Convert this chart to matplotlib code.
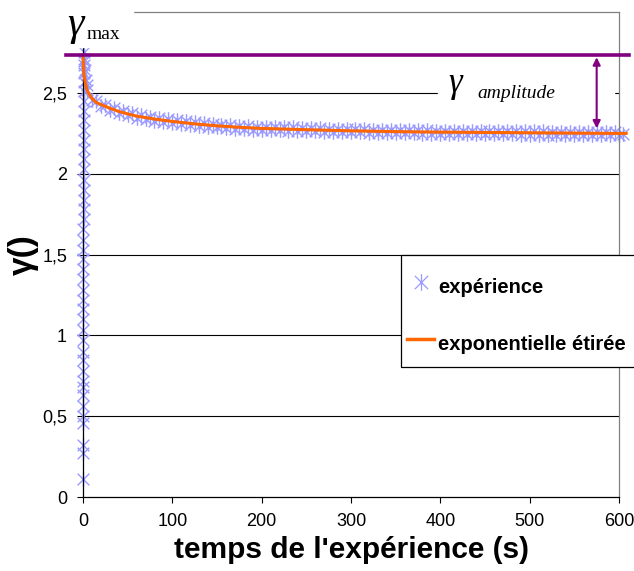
import numpy as np
import matplotlib

matplotlib.use("Agg")
import matplotlib.pyplot as plt
from matplotlib.path import Path
from matplotlib.patches import Rectangle
from matplotlib.lines import Line2D

plt.rcParams["font.family"] = ["Liberation Sans", "DejaVu Sans"]

# --- data ---
gamma_max = 2.735

# rise of the measured points right at t ~ 0
ramp_t = [0.0, 0.0, 0.05, 0.05, 0.1, 0.1, 0.15, 0.15, 0.2, 0.2,
          0.25, 0.25, 0.3, 0.3, 0.35, 0.35, 0.4, 0.4, 0.45, 0.45,
          0.5, 0.5, 0.55, 0.55, 0.6, 0.6, 0.65, 0.65, 0.7, 0.7,
          0.75, 0.75, 0.8, 0.8, 0.85, 0.85, 0.9, 0.9, 0.95, 0.95,
          1.0, 1.0, 1.0]
ramp_g = [0.11, 0.27, 0.32, 0.46, 0.50, 0.56, 0.63, 0.68, 0.72, 0.78,
          0.85, 0.90, 0.97, 1.03, 1.10, 1.16, 1.22, 1.28, 1.35, 1.41,
          1.47, 1.53, 1.59, 1.66, 1.72, 1.78, 1.84, 1.90, 1.96, 2.03,
          2.09, 2.15, 2.21, 2.27, 2.33, 2.39, 2.45, 2.51, 2.57, 2.62,
          2.67, 2.71, 2.75]

# relaxation of the measured points
decay_t = [1.5, 2, 3, 4,
           5, 10, 15, 20, 25, 30, 35, 40, 45, 50,
           55, 60, 65, 70, 75, 80, 85, 90, 95, 100,
           105, 110, 115, 120, 125, 130, 135, 140, 145, 150,
           155, 160, 165, 170, 175, 180, 185, 190, 195, 200,
           205, 210, 215, 220, 225, 230, 235, 240, 245, 250,
           255, 260, 265, 270, 275, 280, 285, 290, 295, 300,
           305, 310, 315, 320, 325, 330, 335, 340, 345, 350,
           355, 360, 365, 370, 375, 380, 385, 390, 395, 400,
           405, 410, 415, 420, 425, 430, 435, 440, 445, 450,
           455, 460, 465, 470, 475, 480, 485, 490, 495, 500,
           505, 510, 515, 520, 525, 530, 535, 540, 545, 550,
           555, 560, 565, 570, 575, 580, 585, 590, 595, 600, 605]
decay_g = [2.70, 2.64, 2.58, 2.55,
           2.52, 2.455, 2.45, 2.42, 2.425, 2.395, 2.405, 2.375, 2.387, 2.36,
           2.373, 2.346, 2.361, 2.336, 2.352, 2.328, 2.344, 2.32, 2.336, 2.313,
           2.33, 2.307, 2.324, 2.301, 2.318, 2.295, 2.313, 2.29, 2.308, 2.286,
           2.304, 2.282, 2.30, 2.279, 2.297, 2.276, 2.294, 2.273, 2.291, 2.27,
           2.289, 2.269, 2.288, 2.268, 2.287, 2.267, 2.286, 2.266, 2.285, 2.262,
           2.281, 2.261, 2.280, 2.260, 2.279, 2.259, 2.278, 2.258, 2.276, 2.255,
           2.275, 2.255, 2.274, 2.254, 2.273, 2.253, 2.272, 2.252, 2.271, 2.250,
           2.270, 2.250, 2.269, 2.249, 2.268, 2.248, 2.268, 2.248, 2.267, 2.247,
           2.266, 2.246, 2.266, 2.246, 2.265, 2.245, 2.265, 2.245, 2.264, 2.244,
           2.264, 2.244, 2.263, 2.243, 2.263, 2.243, 2.262, 2.242, 2.262, 2.242,
           2.261, 2.241, 2.261, 2.241, 2.260, 2.240, 2.260, 2.240, 2.259, 2.239,
           2.259, 2.239, 2.258, 2.238, 2.258, 2.238, 2.258, 2.238, 2.257, 2.237,
           2.245]

# stretched exponential fit
fit_t = [0, 0.5, 1, 2, 3, 5, 7, 10, 15, 20, 30, 40, 50, 60, 80, 100,
         125, 150, 175, 200, 250, 300, 350, 400, 450, 500, 550, 600, 608]
fit_g = [2.735, 2.66, 2.62, 2.58, 2.55, 2.51, 2.49, 2.465, 2.44, 2.428,
         2.405, 2.385, 2.37, 2.356, 2.338, 2.323, 2.308, 2.296, 2.287,
         2.28, 2.272, 2.265, 2.26, 2.257, 2.255, 2.253, 2.251, 2.249, 2.249]

yticks = [0, 0.5, 1, 1.5, 2, 2.5]
ytick_labels = ["0", "0,5", "1", "1,5", "2", "2,5"]
xticks = [0, 100, 200, 300, 400, 500, 600]

# asterisk marker: x with a vertical bar
star = Path([(-1, -1), (1, 1), (-1, 1), (1, -1), (0, -1.25), (0, 1.25)],
            [Path.MOVETO, Path.LINETO, Path.MOVETO, Path.LINETO,
             Path.MOVETO, Path.LINETO])

blue = "#9999FF"
orange = "#FF6600"
purple = "#800080"

fig = plt.figure(figsize=(6.34, 5.71), dpi=100)
ax = fig.add_axes([83 / 634, 74 / 571, 536 / 634, 485 / 571])

ax.set_xlim(0, 600)
ax.set_ylim(0, 3)

for y in yticks[1:]:
    ax.axhline(y, color="black", lw=0.8, zorder=0.5)

ax.plot(ramp_t + decay_t, ramp_g + decay_g, ls="none", marker=star,
        ms=10.5, mec=blue, mew=1.0, zorder=2, clip_on=False)
ax.plot(fit_t, fit_g, color=orange, lw=2.2, zorder=3, clip_on=False)

# gamma max line, drawn past the plot edges
ax.plot([-19, 611], [gamma_max, gamma_max], color=purple, lw=2.6,
        zorder=4, clip_on=False)
ax.annotate("", xy=(575, gamma_max - 0.015), xytext=(575, 2.28),
            arrowprops=dict(arrowstyle="<|-|>", color=purple, lw=1.5,
                            mutation_scale=11, shrinkA=0, shrinkB=0),
            zorder=4)

# white text boxes
ax.add_patch(Rectangle((-23 / 536, 450 / 485), 73 / 536, 0.2,
                       transform=ax.transAxes, color="white", zorder=5,
                       clip_on=False))
ax.add_patch(Rectangle((355 / 536, 392 / 485), 176 / 536, 40 / 485,
                       transform=ax.transAxes, color="white", zorder=1))

ax.text(-16 / 536, 462 / 485, "γ", transform=ax.transAxes,
        family="Liberation Serif", style="italic", fontsize=30,
        ha="left", va="baseline", zorder=6, clip_on=False)
ax.text(4 / 536, 458 / 485, "max", transform=ax.transAxes,
        family="Liberation Serif", fontsize=14,
        ha="left", va="baseline", zorder=6, clip_on=False)
ax.text(365 / 536, 405 / 485, "γ", transform=ax.transAxes,
        family="Liberation Serif", style="italic", fontsize=25,
        ha="left", va="baseline", zorder=6)
ax.text(394 / 536, 399 / 485, "amplitude", transform=ax.transAxes,
        family="Liberation Serif", style="italic", fontsize=14,
        ha="left", va="baseline", zorder=6)

ax.set_xticks(xticks)
ax.set_yticks(yticks)
ax.set_yticklabels(ytick_labels)
ax.tick_params(direction="out", length=4.5, width=0.8, labelsize=13,
               color="black")
ax.tick_params(axis="x", pad=7)
ax.tick_params(axis="y", pad=7)

for side in ["left", "bottom"]:
    ax.spines[side].set_color("black")
    ax.spines[side].set_linewidth(0.9)
for side in ["top", "right"]:
    ax.spines[side].set_color("#808080")
    ax.spines[side].set_linewidth(0.9)

ax.set_xlabel("temps de l'expérience (s)", fontsize=21.5, fontweight="bold",
              labelpad=4.5)
ax.set_ylabel("γ()", fontsize=24, fontweight="bold", labelpad=2)

# legend box runs past the right edge of the picture
ax.add_patch(Rectangle((318 / 536, 130 / 485), 0.5, 112 / 485,
                       transform=ax.transAxes, facecolor="white",
                       edgecolor="black", lw=0.9, zorder=6.5, clip_on=False))
handles = [Line2D([], [], ls="none", marker=star, ms=12, mec=blue, mew=0.9),
           Line2D([], [], color=orange, lw=2.5)]
leg = ax.legend(handles, ["expérience", "exponentielle étirée"],
                loc="upper left", bbox_to_anchor=(324 / 536, 226 / 485),
                frameon=False, prop=dict(weight="bold", size=14.5),
                handlelength=1.35, handleheight=2.0, handletextpad=0.2,
                labelspacing=1.31, borderpad=0, borderaxespad=0)
leg.set_zorder(7)

fig.savefig("out.png", dpi=100)
